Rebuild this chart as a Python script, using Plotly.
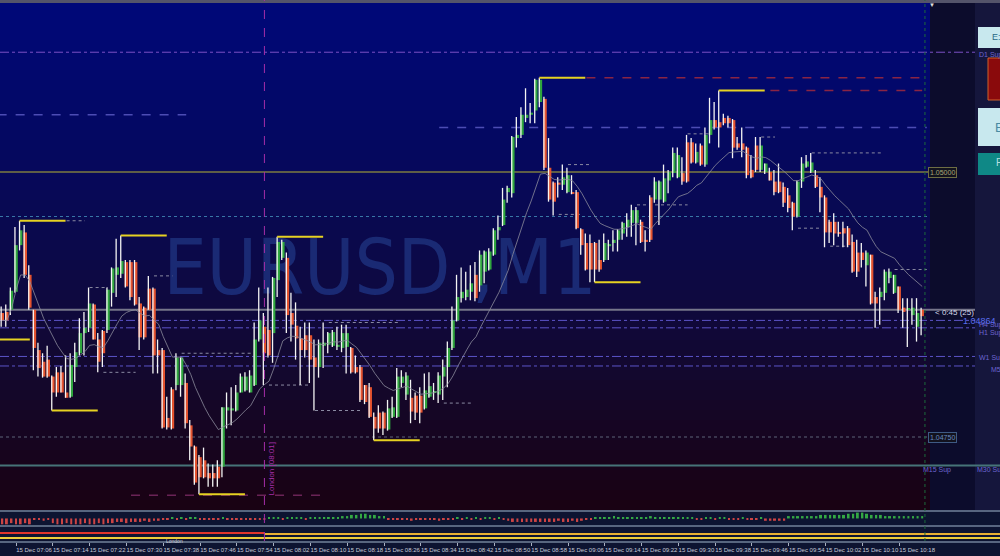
import numpy as np
import pandas as pd
import plotly.graph_objects as go

symbol_label = "EURUSD ,M1"
first_bar = "2016-12-15 07:03"
london_open = "2016-12-15 08:00"

# one-minute bars
opens = [
    1.04867, 1.04868, 1.04870, 1.04887, 1.04931, 1.04943, 1.04903, 1.04870, 1.04832, 1.04821,
    1.04823, 1.04807, 1.04811, 1.04811, 1.04792, 1.04788, 1.04816, 1.04829, 1.04848, 1.04853,
    1.04875, 1.04842, 1.04850, 1.04851, 1.04886, 1.04903, 1.04904, 1.04915, 1.04915, 1.04915,
    1.04876, 1.04872, 1.04890, 1.04890, 1.04832, 1.04832, 1.04768, 1.04795, 1.04799, 1.04799,
    1.04801, 1.04761, 1.04741, 1.04731, 1.04728, 1.04716, 1.04716, 1.04722, 1.04722, 1.04775,
    1.04775, 1.04775, 1.04792, 1.04794, 1.04792, 1.04799, 1.04842, 1.04854, 1.04851, 1.04848,
    1.04898, 1.04919, 1.04919, 1.04867, 1.04855, 1.04843, 1.04846, 1.04846, 1.04825, 1.04816,
    1.04836, 1.04837, 1.04836, 1.04835, 1.04834, 1.04835, 1.04834, 1.04816, 1.04816, 1.04799,
    1.04797, 1.04769, 1.04773, 1.04773, 1.04757, 1.04769, 1.04769, 1.04801, 1.04790, 1.04787,
    1.04789, 1.04789, 1.04777, 1.04788, 1.04792, 1.04790, 1.04807, 1.04816, 1.04834, 1.04860,
    1.04881, 1.04882, 1.04887, 1.04903, 1.04893, 1.04906, 1.04908, 1.04922, 1.04945, 1.04950,
    1.04981, 1.04980, 1.05032, 1.05035, 1.05051, 1.05054, 1.05058, 1.05066, 1.05069, 1.05004,
    1.04990, 1.04990, 1.04988, 1.04981, 1.04981, 1.04981, 1.04946, 1.04933, 1.04933, 1.04933,
    1.04917, 1.04917, 1.04930, 1.04933, 1.04936, 1.04942, 1.04948, 1.04952, 1.04952, 1.04953,
    1.04936, 1.04976, 1.04974, 1.04974, 1.04972, 1.04992, 1.04999, 1.04995, 1.04999, 1.05028,
    1.05028, 1.05009, 1.05025, 1.05007, 1.05035, 1.05049, 1.05047, 1.05051, 1.05051, 1.05049,
    1.05027, 1.05027, 1.05023, 1.05002, 1.05025, 1.05002, 1.05000, 1.05000, 1.04991, 1.04991,
    1.04986, 1.04978, 1.04971, 1.04958, 1.04991, 1.05005, 1.05000, 1.04997, 1.04986, 1.04976,
    1.04953, 1.04953, 1.04943, 1.04947, 1.04947, 1.04934, 1.04924, 1.04924, 1.04912, 1.04922,
    1.04882, 1.04882, 1.04886, 1.04900, 1.04886, 1.04892, 1.04872, 1.04870, 1.04865, 1.04854,
    1.04870,
]
highs = [
    1.04873, 1.04875, 1.04891, 1.04948, 1.04954, 1.04950, 1.04912, 1.04870, 1.04839, 1.04829,
    1.04836, 1.04808, 1.04816, 1.04817, 1.04827, 1.04829, 1.04839, 1.04862, 1.04868, 1.04891,
    1.04876, 1.04848, 1.04851, 1.04891, 1.04910, 1.04937, 1.04940, 1.04917, 1.04917, 1.04917,
    1.04882, 1.04873, 1.04902, 1.04891, 1.04842, 1.04834, 1.04788, 1.04797, 1.04829, 1.04825,
    1.04810, 1.04766, 1.04742, 1.04733, 1.04740, 1.04725, 1.04724, 1.04728, 1.04778, 1.04792,
    1.04797, 1.04799, 1.04810, 1.04811, 1.04813, 1.04858, 1.04891, 1.04867, 1.04891, 1.04901,
    1.04939, 1.04936, 1.04924, 1.04886, 1.04877, 1.04854, 1.04858, 1.04858, 1.04842, 1.04842,
    1.04858, 1.04849, 1.04851, 1.04854, 1.04856, 1.04856, 1.04835, 1.04827, 1.04818, 1.04799,
    1.04801, 1.04773, 1.04780, 1.04774, 1.04785, 1.04788, 1.04815, 1.04813, 1.04811, 1.04804,
    1.04792, 1.04797, 1.04810, 1.04811, 1.04801, 1.04811, 1.04823, 1.04840, 1.04873, 1.04903,
    1.04910, 1.04906, 1.04912, 1.04915, 1.04926, 1.04926, 1.04928, 1.04947, 1.04959, 1.04985,
    1.04987, 1.05034, 1.05052, 1.05061, 1.05079, 1.05065, 1.05088, 1.05089, 1.05071, 1.05032,
    1.04991, 1.04995, 1.05007, 1.05004, 1.04997, 1.04983, 1.04947, 1.04942, 1.04941, 1.04934,
    1.04936, 1.04942, 1.04936, 1.04945, 1.04946, 1.04953, 1.04961, 1.04969, 1.04967, 1.04955,
    1.04945, 1.04978, 1.04995, 1.04992, 1.05007, 1.05002, 1.05023, 1.05023, 1.05014, 1.05035,
    1.05032, 1.05027, 1.05027, 1.05042, 1.05070, 1.05066, 1.05077, 1.05055, 1.05053, 1.05050,
    1.05033, 1.05042, 1.05024, 1.05016, 1.05033, 1.05033, 1.05008, 1.05004, 1.05002, 1.05008,
    1.04990, 1.04985, 1.04972, 1.04992, 1.05014, 1.05016, 1.05018, 1.05002, 1.04995, 1.04978,
    1.04955, 1.04961, 1.04953, 1.04953, 1.04949, 1.04941, 1.04936, 1.04933, 1.04926, 1.04922,
    1.04887, 1.04891, 1.04908, 1.04909, 1.04903, 1.04892, 1.04881, 1.04881, 1.04881, 1.04881,
    1.04872,
]
lows = [
    1.04854, 1.04854, 1.04865, 1.04886, 1.04926, 1.04900, 1.04870, 1.04813, 1.04807, 1.04806,
    1.04806, 1.04775, 1.04788, 1.04792, 1.04787, 1.04787, 1.04802, 1.04827, 1.04827, 1.04849,
    1.04842, 1.04811, 1.04816, 1.04848, 1.04873, 1.04882, 1.04900, 1.04891, 1.04879, 1.04874,
    1.04832, 1.04842, 1.04870, 1.04810, 1.04810, 1.04758, 1.04757, 1.04757, 1.04794, 1.04788,
    1.04758, 1.04728, 1.04705, 1.04696, 1.04711, 1.04703, 1.04703, 1.04703, 1.04712, 1.04758,
    1.04761, 1.04774, 1.04792, 1.04793, 1.04792, 1.04798, 1.04840, 1.04799, 1.04825, 1.04820,
    1.04882, 1.04917, 1.04848, 1.04840, 1.04823, 1.04799, 1.04825, 1.04801, 1.04775, 1.04806,
    1.04815, 1.04829, 1.04835, 1.04832, 1.04830, 1.04810, 1.04810, 1.04810, 1.04783, 1.04781,
    1.04768, 1.04747, 1.04754, 1.04752, 1.04756, 1.04768, 1.04768, 1.04797, 1.04785, 1.04763,
    1.04766, 1.04763, 1.04776, 1.04787, 1.04785, 1.04782, 1.04785, 1.04797, 1.04832, 1.04859,
    1.04877, 1.04879, 1.04879, 1.04878, 1.04887, 1.04895, 1.04907, 1.04921, 1.04936, 1.04949,
    1.04971, 1.04976, 1.05023, 1.05032, 1.05047, 1.05046, 1.05046, 1.05061, 1.05002, 1.04972,
    1.04959, 1.04976, 1.04983, 1.04980, 1.04979, 1.04946, 1.04922, 1.04907, 1.04896, 1.04896,
    1.04906, 1.04915, 1.04917, 1.04925, 1.04925, 1.04936, 1.04939, 1.04939, 1.04931, 1.04933,
    1.04925, 1.04934, 1.04971, 1.04950, 1.04971, 1.04980, 1.04995, 1.04994, 1.04988, 1.04990,
    1.05008, 1.05008, 1.05006, 1.05005, 1.05027, 1.05040, 1.05023, 1.05044, 1.05042, 1.05013,
    1.05021, 1.05014, 1.04994, 1.04994, 1.05000, 1.05000, 1.04998, 1.04992, 1.04978, 1.04980,
    1.04967, 1.04962, 1.04945, 1.04957, 1.04985, 1.05004, 1.04999, 1.04985, 1.04962, 1.04929,
    1.04933, 1.04931, 1.04939, 1.04929, 1.04929, 1.04905, 1.04901, 1.04910, 1.04892, 1.04875,
    1.04853, 1.04856, 1.04879, 1.04895, 1.04885, 1.04867, 1.04853, 1.04835, 1.04856, 1.04840,
    1.04846,
]
closes = [
    1.04860, 1.04860, 1.04888, 1.04931, 1.04945, 1.04903, 1.04872, 1.04834, 1.04815, 1.04807,
    1.04807, 1.04792, 1.04792, 1.04792, 1.04787, 1.04818, 1.04830, 1.04848, 1.04853, 1.04876,
    1.04842, 1.04821, 1.04829, 1.04889, 1.04909, 1.04910, 1.04916, 1.04892, 1.04882, 1.04875,
    1.04844, 1.04844, 1.04870, 1.04827, 1.04827, 1.04759, 1.04759, 1.04758, 1.04825, 1.04825,
    1.04763, 1.04741, 1.04707, 1.04712, 1.04712, 1.04711, 1.04711, 1.04711, 1.04778, 1.04778,
    1.04777, 1.04792, 1.04807, 1.04807, 1.04808, 1.04842, 1.04860, 1.04829, 1.04827, 1.04900,
    1.04934, 1.04934, 1.04865, 1.04856, 1.04843, 1.04832, 1.04832, 1.04823, 1.04816, 1.04839,
    1.04839, 1.04848, 1.04849, 1.04837, 1.04848, 1.04848, 1.04811, 1.04811, 1.04785, 1.04783,
    1.04769, 1.04758, 1.04758, 1.04758, 1.04777, 1.04778, 1.04807, 1.04807, 1.04808, 1.04774,
    1.04773, 1.04773, 1.04794, 1.04798, 1.04793, 1.04808, 1.04816, 1.04834, 1.04860, 1.04882,
    1.04887, 1.04889, 1.04895, 1.04881, 1.04922, 1.04925, 1.04925, 1.04945, 1.04948, 1.04974,
    1.04985, 1.05033, 1.05035, 1.05054, 1.05054, 1.05056, 1.05087, 1.05087, 1.05004, 1.04974,
    1.04972, 1.04988, 1.04995, 1.04997, 1.04980, 1.04947, 1.04931, 1.04908, 1.04908, 1.04908,
    1.04908, 1.04933, 1.04932, 1.04936, 1.04945, 1.04952, 1.04955, 1.04964, 1.04964, 1.04934,
    1.04934, 1.04936, 1.04991, 1.04991, 1.04994, 1.05000, 1.05018, 1.05016, 1.04991, 1.04991,
    1.05009, 1.05019, 1.05007, 1.05035, 1.05049, 1.05042, 1.05042, 1.05046, 1.05046, 1.05023,
    1.05023, 1.05021, 1.04997, 1.04995, 1.05002, 1.05025, 1.05008, 1.04992, 1.04981, 1.04981,
    1.04971, 1.04966, 1.04958, 1.04991, 1.05008, 1.05010, 1.05009, 1.04986, 1.04976, 1.04943,
    1.04943, 1.04942, 1.04942, 1.04942, 1.04931, 1.04906, 1.04906, 1.04917, 1.04924, 1.04876,
    1.04876, 1.04887, 1.04906, 1.04906, 1.04903, 1.04870, 1.04868, 1.04871, 1.04872, 1.04867,
    1.04864,
]
# lower histogram indicator
momentum = [
    -5, -5, -4, -5, -5, -4, -5, -1, -1, -2, -1, -4, -5, -5, -4, -5, -5, -5, -4, -5,
    -5, -4, -5, -4, -4, -3, -3, -4, -3, -3, -3, -2, -3, -2, -2, -1, -1, 1, -1, 1,
    -1, 1, 1, -1, -1, -1, -1, -1, 1, -1, -1, -1, -1, -1, -1, -1, -1, -1, 1, 1,
    1, -1, 1, 1, 1, 1, -1, 1, 1, 1, 1, 1, 1, 1, 2, 2, 3, 3, 4, 4,
    3, 3, 2, 2, -1, -1, -1, -1, -1, -2, -1, -1, -1, -1, -1, -2, -1, -1, -1, 1,
    -1, 1, -1, 1, -1, 1, 1, -1, 1, -1, -2, -3, -3, -3, -3, -3, -3, -3, -3, -3,
    -3, -2, -3, -3, -2, -3, -2, -1, -1, 1, 1, 1, 1, 2, 1, 1, 1, 1, 1, 1,
    1, 2, 1, 1, 1, 1, 1, 1, 1, 1, 1, -1, -1, 1, 1, -1, 1, 1, -1, -1,
    -1, 1, -1, -1, -1, 1, -2, -2, -2, -2, -2, 2, 2, 2, 2, 2, 2, 2, 3, 3,
    3, 3, 3, 3, 4, 4, 5, 5, 4, 3, 3, 3, 2, 2, 2, 2, 2, 2, 2, 2,
    2,
]

swing_high_bars = [4, 26, 60, 117, 156]
swing_low_bars = [11, 43, 81, 129]
prior_swing_low = 1.04842

round_levels = [1.05000, 1.04750]
day_open = 1.04958
ask_price = 1.04870
pivot_names = ["D1 Sup", "H4 Sup", "H1 Sup", "W1 Sup", "M5", "M15 Sup"]
pivot_prices = [1.05113, 1.04860, 1.04853, 1.04826, 1.04817, 1.04723]

# short dotted fractal levels: start, end, price
frac_start = ["07:17", "07:22", "07:36", "07:25", "07:42", "08:01", "08:11", "08:14", "08:39",
              "09:06", "09:04", "09:21", "09:59", "09:48", "09:56", "10:17", "09:32", "10:03"]
frac_end = ["07:21", "07:26", "07:40", "07:32", "07:57", "08:10", "08:21", "08:29", "08:45",
            "09:11", "09:09", "09:32", "10:14", "09:51", "10:01", "10:24", "09:37", "10:07"]
frac_price = [1.04954, 1.04891, 1.04902, 1.04811, 1.04829, 1.04799, 1.04775, 1.04858, 1.04782,
              1.05007, 1.04960, 1.04969, 1.05018, 1.05033, 1.04947, 1.04908, 1.05036, 1.04930]

# dashed zone lines: start, end, price, colour
zone_start = ["07:02", "08:38", "07:31", "09:10", "09:50"]
zone_end = ["07:43", "10:24", "08:14", "10:23", "10:23"]
zone_price = [1.05054, 1.05042, 1.04695, 1.05089, 1.05077]
zone_color = ["#4c4cb4", "#4c4cb4", "#6a2356", "#8a2444", "#8a2444"]

W, H = 1000, 556
day = "2016-12-15 "


def px(x):
    return x / W


def py(y):
    return 1 - y / H


times = pd.date_range(first_bar, periods=len(closes), freq="min")
o = np.array(opens)
c = np.array(closes)
up = c >= o
body_col = np.where(up, "#2fa63e", "#e4532f")
ma = pd.Series(closes).ewm(span=16).mean()

x_left = times[0] - pd.Timedelta(seconds=29)
x_right = times[-1] + pd.Timedelta(seconds=102)
now_line = times[-1] + pd.Timedelta(seconds=36)

fig = go.Figure()

# candle bodies
fig.add_trace(go.Bar(
    x=times, y=c - o, base=o, width=46000,
    marker=dict(color=body_col, line_width=0),
    yaxis="y", hoverinfo="skip"
))

# histogram in the strip below
fig.add_trace(go.Bar(
    x=times, y=momentum, width=26000,
    marker=dict(color=["#34a844" if v > 0 else "#cc4444" for v in momentum], line_width=0),
    yaxis="y2", hoverinfo="skip"
))

# white wicks, drawn just left of the body
wx, wy = [], []
for t, hi, lo in zip(times, highs, lows):
    tt = t - pd.Timedelta(seconds=14)
    wx += [tt, tt, None]
    wy += [lo, hi, None]
fig.add_trace(go.Scatter(x=wx, y=wy, mode="lines",
                         line=dict(color="#f4f4f4", width=1.3),
                         yaxis="y", hoverinfo="skip"))

fig.add_trace(go.Scatter(x=times, y=ma, mode="lines",
                         line=dict(color="#8c8c9c", width=0.8),
                         yaxis="y", hoverinfo="skip"))

shapes = []

# background gradient of the chart window
stops_y = [0, 130, 260, 380, 510]
stops_c = [(0, 8, 122), (4, 8, 100), (12, 10, 72), (20, 8, 45), (26, 2, 18)]
band = 10
for y0 in range(0, 510, band):
    ym = y0 + band / 2
    col = [int(np.interp(ym, stops_y, [s[k] for s in stops_c])) for k in range(3)]
    shapes.append(dict(type="rect", xref="paper", yref="paper", layer="below",
                       x0=0, x1=px(930), y0=py(y0 + band), y1=py(y0),
                       fillcolor=f"rgb({col[0]},{col[1]},{col[2]})", line_width=0))

# watermark
shapes.append(dict(type="rect", xref="paper", yref="paper", layer="below",
                   x0=px(150), x1=px(610), y0=py(300), y1=py(225), line_width=0,
                   fillcolor="rgba(0,0,0,0)",
                   label=dict(text=symbol_label, textposition="middle center",
                              font=dict(size=76, color="#1a2a74",
                                        family="DejaVu Sans Condensed, Arial"))))

# right-hand panel
shapes.append(dict(type="rect", xref="paper", yref="paper", layer="below",
                   x0=px(930), x1=1, y0=py(510), y1=1, fillcolor="#0c0c2c", line_width=0))
shapes.append(dict(type="rect", xref="paper", yref="paper", layer="below",
                   x0=px(975), x1=1, y0=py(510), y1=1, fillcolor="#15163c", line_width=0))
shapes.append(dict(type="rect", xref="paper", yref="paper", layer="below",
                   x0=0, x1=1, y0=py(3), y1=1, fillcolor="#54546a", line_width=0))

# bottom strips
shapes.append(dict(type="rect", xref="paper", yref="paper", layer="below",
                   x0=0, x1=1, y0=0, y1=py(510), fillcolor="#0d1431", line_width=0))
for yb in [511, 526, 542]:
    shapes.append(dict(type="line", xref="paper", yref="paper", layer="below",
                       x0=0, x1=1, y0=py(yb), y1=py(yb), line=dict(color="#58667f", width=2)))

# session lines
shapes.append(dict(type="line", xref="x", yref="paper", x0=x_left, x1=london_open,
                   y0=py(533), y1=py(533), line=dict(color="#e0342c", width=2)))
shapes.append(dict(type="line", xref="x", yref="paper", x0=london_open, x1=x_right,
                   y0=py(534), y1=py(534), line=dict(color="#e8b032", width=2)))
shapes.append(dict(type="line", xref="paper", yref="paper", x0=px(930), x1=1,
                   y0=py(534), y1=py(534), line=dict(color="#e8b032", width=2)))
shapes.append(dict(type="line", xref="paper", yref="paper", x0=0, x1=1,
                   y0=py(538), y1=py(538), line=dict(color="#eccc3c", width=2)))

# horizontal price levels
shapes.append(dict(type="line", xref="paper", yref="y", layer="below", x0=0, x1=px(930),
                   y0=round_levels[0], y1=round_levels[0], line=dict(color="#5e5e46", width=2)))
shapes.append(dict(type="line", xref="paper", yref="y", layer="below", x0=0, x1=px(930),
                   y0=round_levels[1], y1=round_levels[1], line=dict(color="#5c6478", width=1, dash="dot")))
shapes.append(dict(type="line", xref="paper", yref="y", layer="below", x0=0, x1=px(930),
                   y0=day_open, y1=day_open, line=dict(color="#3a78a8", width=1, dash="dot")))
shapes.append(dict(type="line", xref="paper", yref="y", layer="below", x0=0, x1=px(975),
                   y0=ask_price, y1=ask_price, line=dict(color="#76768a", width=2)))
for name, p in zip(pivot_names, pivot_prices):
    if name == "M15 Sup":
        shapes.append(dict(type="line", xref="paper", yref="y", layer="below", x0=0, x1=1,
                           y0=p, y1=p, line=dict(color="#467478", width=2)))
    else:
        col = "#7a50c4" if name == "D1 Sup" else "#5c54c8"
        shapes.append(dict(type="line", xref="paper", yref="y", layer="below", x0=0, x1=px(975),
                           y0=p, y1=p, line=dict(color=col, width=1, dash="dashdot")))

for s, e, p, col in zip(zone_start, zone_end, zone_price, zone_color):
    shapes.append(dict(type="line", xref="x", yref="y", layer="below", x0=day + s, x1=day + e,
                       y0=p, y1=p, line=dict(color=col, width=1.5, dash="dash")))

for s, e, p in zip(frac_start, frac_end, frac_price):
    shapes.append(dict(type="line", xref="x", yref="y", layer="below", x0=day + s, x1=day + e,
                       y0=p, y1=p, line=dict(color="#8a8aa2", width=1, dash="dot")))

# swing markers
ten = pd.Timedelta(minutes=10)
for i in swing_high_bars:
    t0 = times[i] - pd.Timedelta(seconds=14)
    shapes.append(dict(type="line", xref="x", yref="y", x0=t0, x1=t0 + ten,
                       y0=highs[i], y1=highs[i], line=dict(color="#e6d222", width=2)))
for i in swing_low_bars:
    t0 = times[i] - pd.Timedelta(seconds=14)
    shapes.append(dict(type="line", xref="x", yref="y", x0=t0, x1=t0 + ten,
                       y0=lows[i], y1=lows[i], line=dict(color="#e6d222", width=2)))
shapes.append(dict(type="line", xref="x", yref="y", x0=times[0] - pd.Timedelta(minutes=4),
                   x1=times[0] + pd.Timedelta(minutes=6), y0=prior_swing_low, y1=prior_swing_low,
                   line=dict(color="#e6d222", width=2)))

# session and "now" verticals
shapes.append(dict(type="line", xref="x", yref="paper", x0=london_open, x1=london_open,
                   y0=py(541), y1=1, line=dict(color="#a42ea8", width=1, dash="dash")))
shapes.append(dict(type="line", xref="x", yref="paper", x0=now_line, x1=now_line,
                   y0=py(541), y1=1, line=dict(color="#1c6a3c", width=1, dash="dot")))

# right side buttons
shapes.append(dict(type="rect", xref="paper", yref="paper", x0=px(978), x1=1,
                   y0=py(48), y1=py(27), fillcolor="#c8e8ee", line_width=0))
shapes.append(dict(type="rect", xref="paper", yref="paper", x0=px(988), x1=1.01,
                   y0=py(100), y1=py(58), fillcolor="#8a0a0c", line=dict(color="#d0602a", width=1)))
shapes.append(dict(type="rect", xref="paper", yref="paper", x0=px(978), x1=1,
                   y0=py(146), y1=py(108), fillcolor="#c8e8ee", line_width=0))
shapes.append(dict(type="rect", xref="paper", yref="paper", x0=px(978), x1=1,
                   y0=py(175), y1=py(153), fillcolor="#0f8886", line_width=0))

font_family = "Liberation Sans, Arial, sans-serif"
annotations = []


def note(text, x, y, yref="paper", size=7, color="#6c64d0", xanchor="left", **kw):
    annotations.append(dict(text=text, x=x, y=y, xref="paper", yref=yref, showarrow=False,
                            xanchor=xanchor, yanchor="middle",
                            font=dict(size=size, color=color, family=font_family), **kw))


note("1.05000", px(942), round_levels[0], yref="y", color="#a8a878", xanchor="center",
     bordercolor="#6e6e44", borderwidth=1, borderpad=1, bgcolor="#12121e")
note("1.04750", px(942), round_levels[1], yref="y", color="#6a8cc0", xanchor="center",
     bordercolor="#3e5a84", borderwidth=1, borderpad=1, bgcolor="#12121e")
note("< 0:45 (25)", px(933), py(312), size=8, color="#d8d8e8")
note("D1 Sup", px(977), py(55))
note("H4 Sup", px(977), py(325))
note("H1 Sup", px(977), py(333))
note("W1 Sup", px(977), py(358))
note("M5", px(989), py(369))
note("M15 Sup", px(921), py(470))
note("M30 Sup", px(975), py(470))
note("1.04864", px(961), py(321), size=9, color="#5a6ef0")
note("E:", px(990), py(37), size=9, color="#2a6a86")
note("E", px(993), py(127), size=13, color="#4a8aa2")
note("F", px(994), py(163), size=10, color="#b8e0e0")
note("▼", px(932), py(5), size=6, color="#e0e0e0", xanchor="center")
note("London", px(174), py(541), size=5, color="#d0d0d8", xanchor="center")
annotations.append(dict(text="London [08:01]", x=london_open, y=py(497), xref="x", yref="paper",
                        showarrow=False, textangle=-90, xanchor="left", yanchor="bottom", xshift=1,
                        font=dict(size=8, color="#a42ea8", family=font_family)))

fig.update_layout(
    width=W, height=H, autosize=False,
    margin=dict(l=0, r=0, t=0, b=0, pad=0),
    paper_bgcolor="#0d1431",
    plot_bgcolor="rgba(0,0,0,0)",
    showlegend=False,
    barmode="overlay",
    hovermode=False,
    shapes=shapes,
    annotations=annotations,
    xaxis=dict(
        domain=[0, px(930)], range=[x_left, x_right], type="date",
        anchor="free", position=py(542), automargin=False,
        tick0="2016-12-15 06:58", dtick=8 * 60000, tickformat="%d %b %H:%M",
        tickangle=0,
        ticks="outside", ticklen=3, tickcolor="#a8b0c0",
        ticklabelshift=18, ticklabelstandoff=-1,
        tickfont=dict(size=6, color="#c4cad8", family=font_family),
        showgrid=False, zeroline=False, showline=False,
    ),
    yaxis=dict(domain=[py(510), 1], range=[1.0468113, 1.0516226], visible=False,
               anchor="x", automargin=False),
    yaxis2=dict(domain=[py(525), py(510)], range=[-5.6, 7.2], visible=False,
                anchor="x", automargin=False),
)

fig.write_html("out.html", config={"displayModeBar": False, "responsive": False},
               post_script="document.documentElement.style.overflow='hidden';"
                           "document.body.style.margin='0';document.body.style.overflow='hidden';")
